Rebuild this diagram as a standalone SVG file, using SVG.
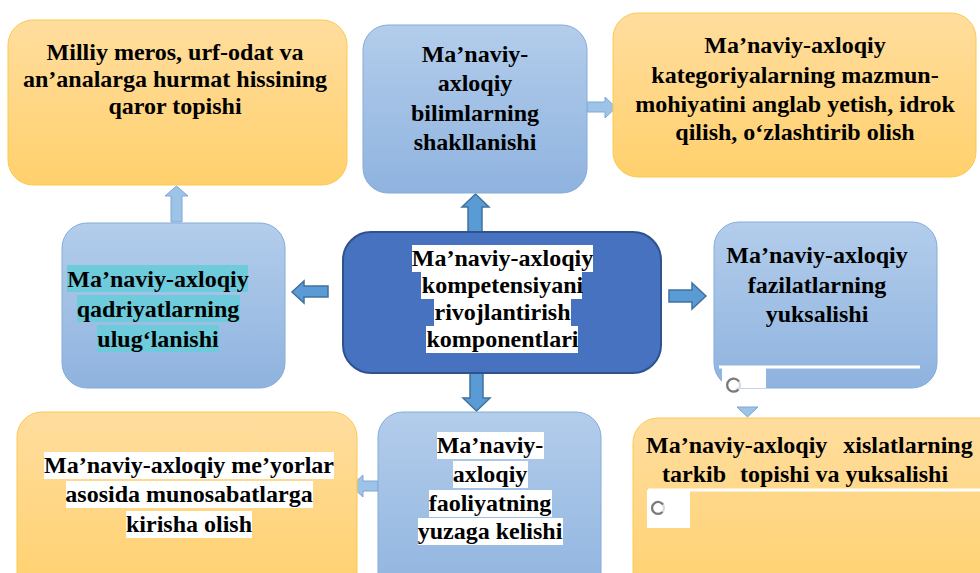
<svg xmlns="http://www.w3.org/2000/svg" width="980" height="573" viewBox="0 0 980 573">
<defs>
<linearGradient id="gOrange" x1="0" y1="0" x2="0" y2="1"><stop offset="0" stop-color="#FFDD9E"/><stop offset="1" stop-color="#FFD06C"/></linearGradient>
<linearGradient id="gBlue" x1="0" y1="0" x2="0" y2="1"><stop offset="0" stop-color="#B3CDEB"/><stop offset="1" stop-color="#8FB3DF"/></linearGradient>
<style>
.orange{fill:url(#gOrange);stroke:#FCC94E;stroke-width:1}
.blue{fill:url(#gBlue);stroke:#86ABDA;stroke-width:1}
.center{fill:#4672C0;stroke:#2F528F;stroke-width:2}
.t{font-family:"Liberation Serif","Times New Roman",serif;font-weight:bold;font-size:24px;fill:#000;text-anchor:middle}
.ts{font-family:"Liberation Serif","Times New Roman",serif;font-weight:bold;font-size:24px;fill:#000}
.hw{fill:#FFFFFF}
.hc{fill:#6ECBDC}
.light{fill:#9DC3E6;stroke:#7EA6D6;stroke-width:1}
.med{fill:#5B9BD5;stroke:#41719C;stroke-width:1.5}
.ring{fill:none;stroke:#D8D8D8;stroke-width:2.2}
.spin{fill:none;stroke:#7A7A7A;stroke-width:2.2}
</style>
</defs>
<rect width="980" height="573" fill="#FFFFFF"/>

<g id="connectors">
<polygon class="light" points="171,222 171,196 165,196 176.5,186 188,196 182,196 182,222"/>
<polygon class="med" points="468,232 468,207 462,207 475.5,194 489,207 482,207 482,232"/>
<polygon class="light" points="587,102 605,102 605,97 616,107.5 605,118 605,112 587,112"/>
<polygon class="med" points="328,286 304,286 304,281 292,292 304,303 304,297 328,297"/>
<polygon class="med" points="669,290 692,290 692,283 706,296 692,309 692,302 669,302"/>
<polygon class="med" points="470,373 470,398 463,398 476.5,411 490,398 483,398 483,373"/>
<polygon class="light" points="378,481 363,481 363,475 351,486 363,497 363,491 378,491"/>
<polygon class="light" points="737,407 758,407 747.5,417"/>
</g>

<g id="node1">
<rect class="orange" x="8" y="20" width="339" height="165" rx="25"/>
<text class="t" x="175" y="60">Milliy meros, urf-odat va</text>
<text class="t" x="175" y="87">an’analarga hurmat hissining</text>
<text class="t" x="175" y="114">qaror topishi</text>
</g>

<g id="node2">
<rect class="blue" x="363" y="25" width="224" height="168" rx="25"/>
<text class="t" x="475" y="62">Ma’naviy-</text>
<text class="t" x="475" y="91">axloqiy</text>
<text class="t" x="475" y="121">bilimlarning</text>
<text class="t" x="475" y="150">shakllanishi</text>
</g>

<g id="node3">
<rect class="orange" x="613" y="13" width="363" height="164" rx="25"/>
<text class="t" x="795" y="53">Ma’naviy-axloqiy</text>
<text class="t" x="795" y="83">kategoriyalarning mazmun-</text>
<text class="t" x="795" y="112">mohiyatini anglab yetish, idrok</text>
<text class="t" x="795" y="140">qilish, o‘zlashtirib olish</text>
</g>

<g id="node4">
<rect class="blue" x="62" y="223" width="223" height="165" rx="25"/>
<rect class="hc" x="67" y="265" width="181" height="27"/>
<rect class="hc" x="77" y="295" width="163" height="27"/>
<rect class="hc" x="97" y="325" width="122" height="27"/>
<text class="t" x="158" y="286.5">Ma’naviy-axloqiy</text>
<text class="t" x="158" y="316.5">qadriyatlarning</text>
<text class="t" x="158" y="346.5">ulug‘lanishi</text>
</g>

<g id="node5">
<rect class="center" x="343" y="232" width="318" height="141" rx="28"/>
<rect class="hw" x="412" y="245" width="181" height="27"/>
<rect class="hw" x="421" y="272" width="161" height="27"/>
<rect class="hw" x="434" y="299" width="137" height="27"/>
<rect class="hw" x="426" y="326" width="152" height="27"/>
<text class="t" x="502.5" y="266">Ma’naviy-axloqiy</text>
<text class="t" x="502.5" y="293">kompetensiyani</text>
<text class="t" x="502.5" y="320">rivojlantirish</text>
<text class="t" x="502.5" y="347">komponentlari</text>
</g>

<g id="node6">
<rect class="blue" x="714" y="222" width="223" height="166" rx="25"/>
<text class="t" x="817" y="263">Ma’naviy-axloqiy</text>
<text class="t" x="817" y="293">fazilatlarning</text>
<text class="t" x="817" y="322">yuksalishi</text>
<rect x="719" y="365.5" width="201" height="3" fill="#FFFFFF"/>
<rect x="722" y="368" width="44" height="20" fill="#FFFFFF"/>
<circle class="ring" cx="733.5" cy="385" r="6.5"/>
<path class="spin" d="M739,381.5 A6.5,6.5 0 1 0 738.5,389.5"/>
</g>

<g id="node7">
<rect class="orange" x="17" y="412" width="340" height="190" rx="25"/>
<rect class="hw" x="44" y="452" width="290" height="27"/>
<rect class="hw" x="66" y="481" width="247" height="27"/>
<rect class="hw" x="126" y="511" width="126" height="27"/>
<text class="t" x="189" y="473">Ma’naviy-axloqiy me’yorlar</text>
<text class="t" x="189" y="502">asosida munosabatlarga</text>
<text class="t" x="189" y="532">kirisha olish</text>
</g>

<g id="node8">
<rect class="blue" x="378" y="412" width="223" height="190" rx="25"/>
<rect class="hw" x="437" y="432" width="107" height="27"/>
<rect class="hw" x="453" y="461" width="75" height="27"/>
<rect class="hw" x="429" y="490" width="123" height="27"/>
<rect class="hw" x="418" y="518" width="145" height="27"/>
<text class="t" x="490" y="453">Ma’naviy-</text>
<text class="t" x="490" y="482">axloqiy</text>
<text class="t" x="490" y="511">faoliyatning</text>
<text class="t" x="490" y="539">yuzaga kelishi</text>
</g>

<g id="node9">
<rect class="orange" x="633" y="418" width="380" height="190" rx="25"/>
<text class="ts" x="646" y="453" font-size="25">Ma’naviy-axloqiy<tspan dx="10"> xislatlarning</tspan></text>
<text class="ts" x="662" y="482">tarkib<tspan dx="8"> topishi va yuksalishi</tspan></text>
<rect x="648" y="488.5" width="332" height="3" fill="#FFFFFF"/>
<rect x="647" y="490" width="43" height="38" fill="#FFFFFF"/>
<circle class="ring" cx="658" cy="508" r="6"/>
<path class="spin" d="M663,504.5 A6,6 0 1 0 662.5,512"/>
</g>
</svg>
